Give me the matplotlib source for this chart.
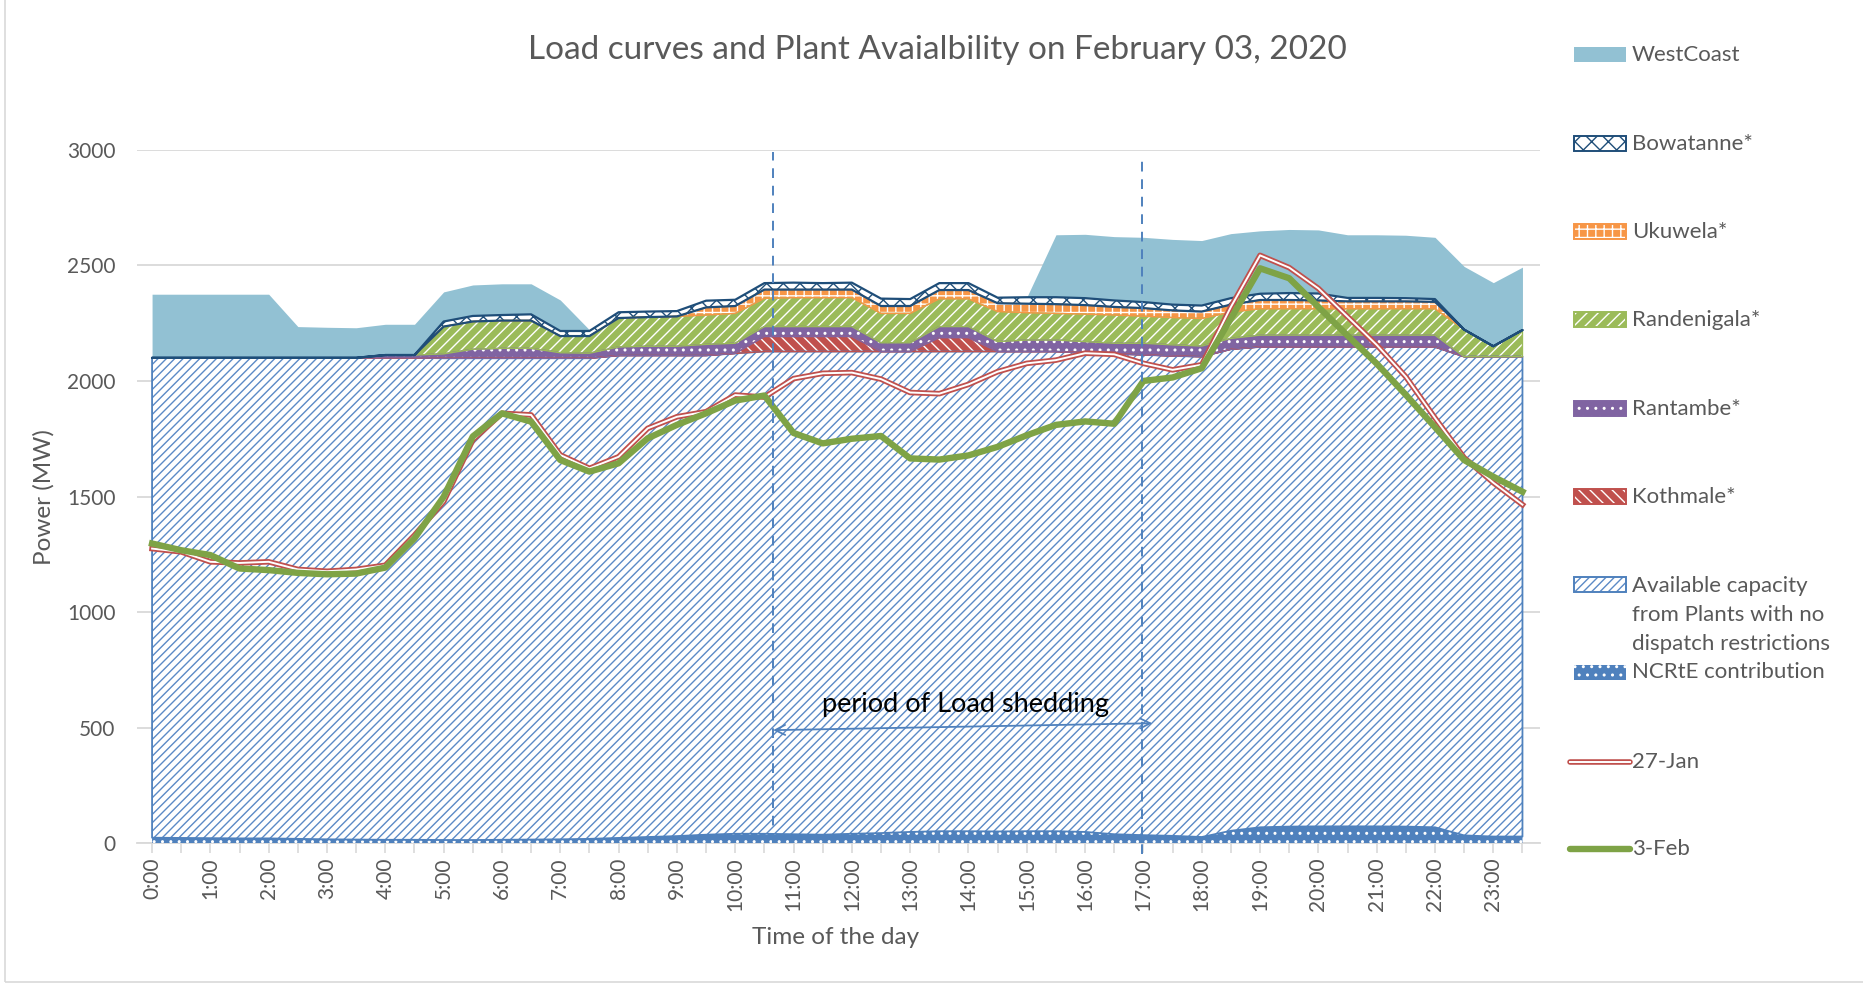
import numpy as np
import matplotlib.pyplot as plt
from matplotlib.patches import Rectangle
from matplotlib.lines import Line2D

# half-hourly categories
TIMES = ["0:00", "0:30", "1:00", "1:30", "2:00", "2:30", "3:00", "3:30",
         "4:00", "4:30", "5:00", "5:30", "6:00", "6:30", "7:00", "7:30",
         "8:00", "8:30", "9:00", "9:30", "10:00", "10:30", "11:00", "11:30",
         "12:00", "12:30", "13:00", "13:30", "14:00", "14:30", "15:00", "15:30",
         "16:00", "16:30", "17:00", "17:30", "18:00", "18:30", "19:00", "19:30",
         "20:00", "20:30", "21:00", "21:30", "22:00", "22:30", "23:00", "23:30"]

# stacked capacity (MW), bottom to top
NCRTE = [25, 24, 23, 22, 22, 20, 18, 17, 16, 16,
         15, 15, 16, 17, 18, 20, 24, 28, 32, 38,
         42, 42, 40, 38, 42, 45, 50, 53, 53, 52,
         53, 53, 50, 40, 36, 33, 28, 55, 70, 73,
         74, 74, 74, 73, 70, 35, 30, 30]
AVAIL = [2075, 2076, 2077, 2078, 2078, 2080, 2082, 2083, 2084, 2084,
         2083, 2083, 2082, 2081, 2080, 2078, 2086, 2082, 2078, 2072,
         2077, 2085, 2087, 2089, 2085, 2082, 2077, 2074, 2074, 2075,
         2074, 2074, 2072, 2077, 2077, 2075, 2077, 2082, 2077, 2074,
         2073, 2073, 2073, 2074, 2077, 2070, 2075, 2075]
KOTHMALE = [0, 0, 0, 0, 0, 0, 0, 0, 0, 0,
            0, 0, 0, 0, 0, 0, 0, 0, 0, 0,
            0, 65, 65, 65, 65, 0, 0, 60, 60, 0,
            0, 0, 0, 0, 0, 0, 0, 0, 0, 0,
            0, 0, 0, 0, 0, 0, 0, 0]
RANTAMBE = [0, 0, 0, 0, 0, 0, 0, 0, 12, 12,
            19, 39, 43, 43, 24, 22, 37, 40, 40, 48,
            44, 43, 43, 43, 43, 38, 38, 48, 48, 43,
            50, 50, 48, 46, 50, 48, 46, 47, 51, 51,
            51, 51, 51, 51, 51, 0, 0, 0]
RANDENIGALA = [0, 0, 0, 0, 0, 0, 0, 0, 0, 0,
               118, 120, 120, 120, 72, 74, 125, 126, 129, 127,
               129, 122, 125, 125, 125, 127, 127, 120, 120, 130,
               118, 115, 119, 122, 117, 118, 119, 114, 114, 114,
               114, 114, 114, 114, 114, 117, 45, 115]
UKUWELA = [0, 0, 0, 0, 0, 0, 0, 0, 0, 0,
           0, 0, 0, 0, 0, 0, 0, 0, 0, 33,
           32, 38, 35, 35, 35, 32, 32, 38, 38, 36,
           39, 40, 39, 35, 35, 31, 30, 32, 38, 38,
           36, 32, 32, 32, 30, 0, 0, 0]
BOWATANNE = [0, 0, 0, 0, 0, 0, 0, 0, 0, 0,
             22, 24, 24, 27, 22, 22, 25, 24, 23, 29,
             27, 28, 30, 28, 30, 32, 30, 30, 30, 24,
             28, 30, 30, 28, 26, 25, 26, 28, 27, 30,
             30, 15, 15, 14, 12, 0, 0, 0]
WESTCOAST = [275, 275, 275, 275, 275, 135, 132, 130, 133, 133,
             128, 134, 135, 132, 134, 5, 0, 0, 0, 0,
             0, 0, 0, 0, 0, 0, 0, 0, 0, 0,
             0, 270, 276, 276, 280, 282, 281, 279, 272, 275,
             275, 273, 273, 272, 267, 273, 275, 272]

# load curves (MW)
JAN27 = [1275, 1261, 1218, 1213, 1218, 1185, 1177, 1185, 1203, 1333,
         1478, 1745, 1860, 1853, 1680, 1622, 1672, 1795, 1845, 1867,
         1939, 1930, 2010, 2033, 2036, 2008, 1950, 1945, 1985, 2040,
         2076, 2090, 2120, 2115, 2076, 2048, 2070, 2320, 2543, 2490,
         2400, 2278, 2156, 2018, 1840, 1668, 1560, 1465]
FEB03 = [1297, 1268, 1247, 1189, 1182, 1170, 1164, 1167, 1193, 1319,
         1499, 1760, 1860, 1824, 1658, 1608, 1644, 1752, 1810, 1860,
         1915, 1937, 1775, 1730, 1750, 1762, 1665, 1660, 1678, 1715,
         1765, 1810, 1825, 1815, 2000, 2015, 2055, 2270, 2487, 2444,
         2320, 2196, 2075, 1940, 1800, 1658, 1586, 1521]

GREY = '#595959'
plt.rcParams['font.family'] = ['Lato', 'DejaVu Sans']
plt.rcParams['hatch.linewidth'] = 1.0

# (values, label, face, hatch, hatch colour, outline colour, outline width)
layers = [
    (NCRTE, 'NCRtE contribution', '#4F81BD', '..', 'white', None, 0),
    (AVAIL, 'Available capacity\nfrom Plants with no\ndispatch restrictions',
     'white', '////', '#5B8AC6', '#4F81BD', 1.3),
    (KOTHMALE, 'Kothmale*', '#C0504D', '\\\\\\', 'white', '#C0504D', 1.0),
    (RANTAMBE, 'Rantambe*', '#8064A2', '..', 'white', '#8064A2', 1.0),
    (RANDENIGALA, 'Randenigala*', '#9BBB59', '///', 'white', '#9BBB59', 1.0),
    (UKUWELA, 'Ukuwela*', '#F79646', '++', 'white', '#F79646', 1.0),
    (BOWATANNE, 'Bowatanne*', 'white', 'xx', '#1F4E79', '#1F4E79', 1.6),
    (WESTCOAST, 'WestCoast', '#92C1D3', None, '#92C1D3', None, 0),
]

fig = plt.figure(figsize=(18.63, 9.84), dpi=100)
ax = fig.add_axes([0.0738, 0.1428, 0.7528, 0.7051])

x = np.arange(len(TIMES))
base = np.zeros(len(TIMES))
for vals, label, face, hatch, hcol, ecol, lw in layers:
    top = base + np.array(vals)
    ax.fill_between(x, base, top, facecolor=face, hatch=hatch,
                    edgecolor=hcol, linewidth=0, zorder=2)
    if ecol:
        ax.fill_between(x, base, top, facecolor='none', edgecolor=ecol,
                        linewidth=lw, zorder=3)
    base = top

ax.plot(x, JAN27, color='#C0504D', lw=4.0, zorder=5)
ax.plot(x, JAN27, color='white', lw=1.4, zorder=6)
ax.plot(x, FEB03, color='#7EA346', lw=4.6, zorder=7)

# load shedding markers
ax.plot([21.3, 21.3], [0, 2990], ls=(0, (5, 4)), color='#4F81BD', lw=1.4, zorder=8)
ax.plot([33.95, 33.95], [-45, 2960], ls=(0, (5, 4)), color='#4F81BD', lw=1.4,
        zorder=8, clip_on=False)
ax.annotate('', xy=(21.3, 490), xytext=(34.3, 520),
            arrowprops=dict(arrowstyle='<->', color='#4F81BD', lw=1.3,
                            shrinkA=0, shrinkB=0, mutation_scale=18), zorder=8)
ax.text(27.9, 600, 'period of Load shedding', ha='center', va='center',
        fontsize=19.5, color='black', zorder=9)

ax.set_xlim(-0.5, 47.6)
ax.set_ylim(0, 3000)
ax.set_yticks(range(0, 3001, 500))
ax.yaxis.grid(True, color='#D9D9D9', lw=1.3)
ax.set_axisbelow(True)
for s in ['top', 'right', 'left']:
    ax.spines[s].set_visible(False)
ax.spines['bottom'].set_color('#D9D9D9')
ax.spines['bottom'].set_linewidth(1.3)
ax.spines['bottom'].set_zorder(1)
ax.set_xticks(x)
ax.set_xticklabels([t if i % 2 == 0 else '' for i, t in enumerate(TIMES)])
ax.tick_params(axis='x', direction='out', length=7, color='#D9D9D9', width=1.2,
               labelrotation=90, labelsize=15, labelcolor=GREY, pad=3)
ax.tick_params(axis='y', length=0, labelsize=15, labelcolor=GREY, pad=16)

fig.text(0.503, 0.949, 'Load curves and Plant Avaialbility on February 03, 2020',
         ha='center', va='center', fontsize=24, color=GREY)
fig.text(44 / 1863, 1 - 497 / 984, 'Power (MW)', rotation=90, ha='center',
         va='center', fontsize=17.5, color=GREY)
fig.text(836 / 1863, 1 - 938 / 984, 'Time of the day', ha='center',
         va='center', fontsize=17.5, color=GREY)

# legend drawn by hand to keep Excel-like spacing
leg_order = [7, 6, 5, 4, 3, 2, 1, 0]
leg_y = [54.6, 143.7, 231.7, 319.6, 408.7, 496.6, 584.5, 672.4, 761.5, 849.4]
px0, pw, ph = 1574 / 1863, 52 / 1863, 15 / 984
tx = 1632 / 1863
for k, li in enumerate(leg_order):
    vals, label, face, hatch, hcol, ecol, lw = layers[li]
    yc = 1 - leg_y[k] / 984
    fig.add_artist(Rectangle((px0, yc - ph / 2), pw, ph, transform=fig.transFigure,
                             facecolor=face, hatch=hatch, edgecolor=hcol, lw=0))
    if ecol:
        fig.add_artist(Rectangle((px0, yc - ph / 2), pw, ph, transform=fig.transFigure,
                                 facecolor='none', edgecolor=ecol, lw=1.4))
    if '\n' in label:
        fig.text(tx, yc + 0.0088, label, ha='left', va='top', fontsize=16,
                 color=GREY, linespacing=1.58)
    else:
        fig.text(tx, yc, label, ha='left', va='center', fontsize=16, color=GREY)

for k, (name, col, lw) in enumerate([('27-Jan', '#C0504D', 4.0), ('3-Feb', '#7EA346', 4.6)]):
    yc = 1 - leg_y[8 + k] / 984
    fig.add_artist(Line2D([px0 - 0.002, px0 + pw + 0.002], [yc, yc], transform=fig.transFigure,
                          color=col, lw=lw, solid_capstyle='round'))
    if name == '27-Jan':
        fig.add_artist(Line2D([px0 - 0.002, px0 + pw + 0.002], [yc, yc],
                              transform=fig.transFigure, color='white', lw=1.4))
    fig.text(tx, yc, name, ha='left', va='center', fontsize=16, color=GREY)

# chart area border
fig.add_artist(Rectangle((0.0025, 0.0025), 1.5, 1.5, transform=fig.transFigure,
                         facecolor='none', edgecolor='#D9D9D9', lw=1.2))

fig.savefig('out.png', dpi=100)
